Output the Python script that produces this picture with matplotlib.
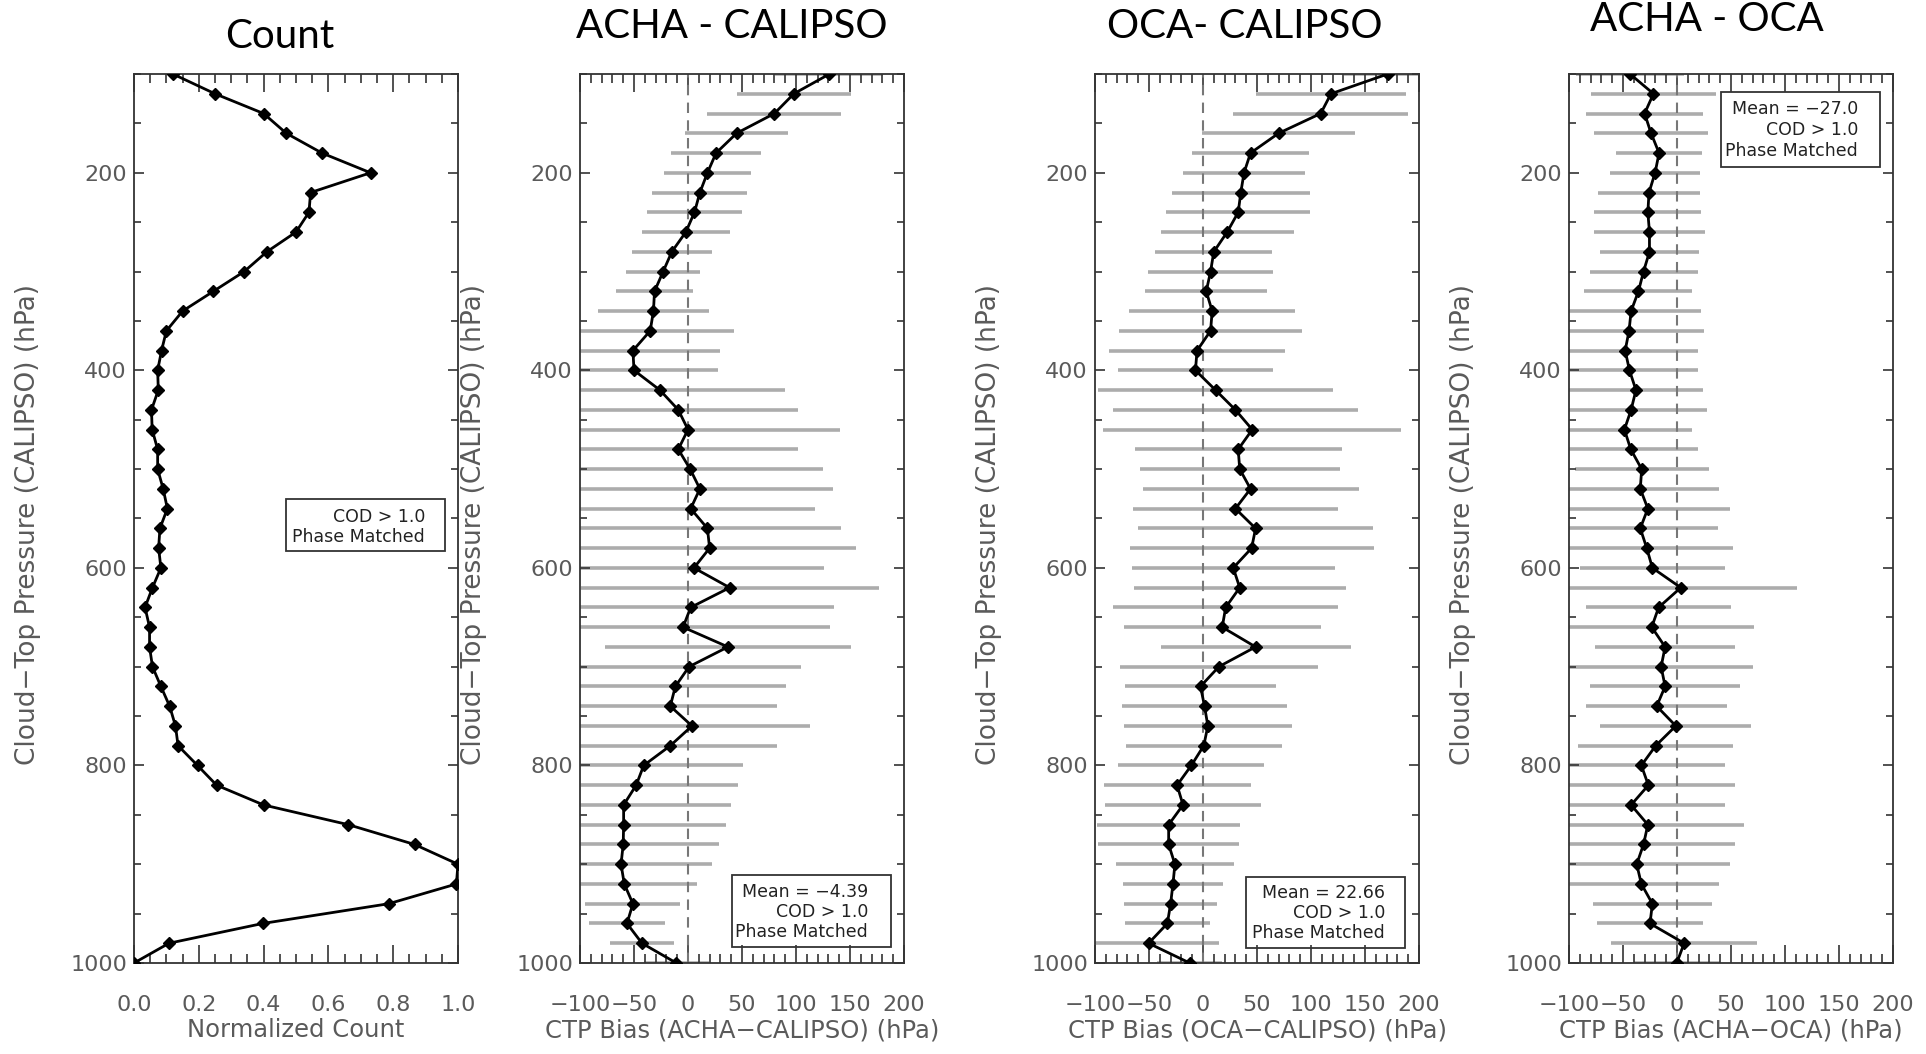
import matplotlib
matplotlib.use("Agg")
import matplotlib.pyplot as plt
from matplotlib.patches import Rectangle
from matplotlib.ticker import MultipleLocator

# ============================================================
# data
# ============================================================

# CALIPSO cloud-top pressure bins (hPa), 100 .. 1000 every 20 hPa
pressure = list(range(100, 1001, 20))

count_norm = [0.12, 0.25, 0.40, 0.47, 0.58, 0.73, 0.545, 0.54, 0.50, 0.41,
              0.34, 0.245, 0.15, 0.10, 0.085, 0.073, 0.075, 0.054, 0.056, 0.073,
              0.073, 0.09, 0.103, 0.08, 0.076, 0.083, 0.057, 0.034, 0.048, 0.048,
              0.057, 0.083, 0.11, 0.128, 0.136, 0.196, 0.255, 0.40, 0.662, 0.866,
              1.0, 0.995, 0.786, 0.397, 0.108, 0.0]

acha_cal_mean = [131, 98, 80, 45, 26, 18, 11, 6, -2, -15,
                 -23, -31, -32, -35, -51, -50, -26, -9, 0, -9,
                 2, 11, 2.5, 18, 20, 5.5, 38.6, 2.5, -4.6, 37,
                 1, -11.7, -16.4, 3.7, -16.4, -41, -48, -59.6, -59.6, -60,
                 -62, -59, -51, -56.5, -42.6, -10.8]
acha_cal_std = [50, 53, 62, 48, 42, 40, 44, 44, 41, 37,
                34, 36, 51, 78, 81, 78, 116, 111, 141, 111,
                123, 123, 115, 124, 136, 120, 138, 133, 136, 114,
                104, 102, 99, 109, 99, 92, 94, 99, 95, 89,
                84, 67, 44, 35, 30, 30]

oca_cal_mean = [171, 118.5, 109, 70, 44, 38, 35, 32.6, 22.4, 10,
                7, 3, 8.5, 7, -5.5, -7, 11.6, 30, 45.6, 32.6,
                34, 44, 30, 48.7, 45, 28, 34, 21, 17.8, 48.7,
                14.7, -2.3, 1.4, 4.5, 0.7, -10.8, -24, -18.5, -31.8, -31.8,
                -26, -27.8, -30, -33, -50.4, -12.3]
oca_cal_std = [40, 69, 81, 71, 54.5, 56.5, 64, 66.6, 61.4, 54,
               58, 56.5, 77, 85, 81.6, 72, 108.6, 113.5, 138, 96,
               92.5, 100, 95, 109, 113, 94, 98, 104, 91, 88,
               91.5, 70, 76, 78, 72, 67.5, 68, 72.5, 66, 65,
               55, 46.5, 43, 39.5, 65, 30]

acha_oca_mean = [-43.5, -21.8, -30, -24, -16.6, -20.3, -25.9, -27, -25.5, -25.5,
                 -31, -35.7, -42.5, -44.4, -48, -44, -38, -42.5, -48.7, -42.8,
                 -32.7, -34, -27, -34, -28, -22.8, 3.5, -17, -23.4, -11,
                 -14.7, -11, -18.8, -1.1, -19.7, -33, -26.5, -42.5, -27, -31,
                 -37.3, -33, -22.8, -25, 6.6, -0.2]
acha_oca_std = [50, 58, 54, 52.8, 40, 42, 47, 49.5, 51, 45.5,
                50, 50, 64.5, 69, 67, 63, 62.5, 70, 62.7, 62,
                62, 73, 76, 72, 80, 67, 108, 67, 95, 65,
                85, 69.5, 65, 70, 72, 77.6, 80.5, 87, 88.6, 85,
                86, 72, 55, 49.5, 67.5, 40]

panel_titles = ["Count", "ACHA - CALIPSO", "OCA- CALIPSO", "ACHA - OCA"]
x_labels = ["Normalized Count", "CTP Bias (ACHA\u2212CALIPSO) (hPa)",
            "CTP Bias (OCA\u2212CALIPSO) (hPa)", "CTP Bias (ACHA\u2212OCA) (hPa)"]
y_label = "Cloud\u2212Top Pressure (CALIPSO) (hPa)"
legend_texts = [
    ["COD > 1.0", "Phase Matched"],
    ["Mean = \u22124.39", "COD > 1.0", "Phase Matched"],
    ["Mean = 22.66", "COD > 1.0", "Phase Matched"],
    ["Mean = \u221227.0", "COD > 1.0", "Phase Matched"],
]

# ============================================================
# layout helpers (pixel positions of the 1926x1054 canvas)
# ============================================================

W, H = 1926, 1054
AXC = "#333333"
TXT = "#5a5a5a"
BAR = "#acacac"

fig = plt.figure(figsize=(W / 100, H / 100), dpi=100)


def add_panel(x0, x1, y0=74, y1=963):
    return fig.add_axes([x0 / W, 1 - y1 / H, (x1 - x0) / W, (y1 - y0) / H])


def style_axes(ax, xlabel, xmajor, xminor):
    ax.set_ylim(1000, 100)
    ax.set_yticks([200, 400, 600, 800, 1000])
    ax.yaxis.set_minor_locator(MultipleLocator(50))
    ax.xaxis.set_major_locator(MultipleLocator(xmajor))
    ax.xaxis.set_minor_locator(MultipleLocator(xminor))
    ax.tick_params(which="both", direction="in", top=True, right=True,
                   color=AXC, width=1.2)
    ax.tick_params(axis="x", which="major", length=13, pad=23,
                   labelsize=16, labelcolor=TXT)
    ax.tick_params(axis="x", which="minor", length=6.5)
    ax.tick_params(axis="y", which="major", length=7, pad=5,
                   labelsize=16, labelcolor=TXT)
    ax.tick_params(axis="y", which="minor", length=5)
    for sp in ax.spines.values():
        sp.set_color(AXC)
        sp.set_linewidth(1.3)
    ax.set_xlabel(xlabel, fontsize=17.5, color=TXT)
    ax.xaxis.set_label_coords(0.5, -0.062)
    ax.set_ylabel(y_label, fontsize=19, color=TXT, va="center")
    ax.yaxis.set_label_coords(-0.327, 0.493)


def draw_legend(bx0, bx1, by0, by1, xr, ys, lines):
    fig.add_artist(Rectangle((bx0 / W, 1 - by1 / H), (bx1 - bx0) / W,
                             (by1 - by0) / H, transform=fig.transFigure,
                             fill=False, edgecolor=AXC, lw=1.3, zorder=5))
    for y, s in zip(ys, lines):
        fig.text(xr / W, 1 - y / H, s, ha="right", va="center",
                 fontsize=12.5, color="#222222", zorder=6)


# ============================================================
# panel 1 : normalized count
# ============================================================

ax1 = add_panel(134, 458)
ax1.plot(count_norm, pressure, color="k", lw=2, marker="D", ms=6, zorder=3)
ax1.set_xlim(0, 1)
style_axes(ax1, x_labels[0], 0.2, 0.05)
ax1.xaxis.set_major_formatter(lambda v, p: f"{v:.1f}")

# ============================================================
# panels 2-4 : CTP bias profiles with +/- 1 std bars
# ============================================================

bias_panels = [
    (580, 904, acha_cal_mean, acha_cal_std),
    (1095, 1419, oca_cal_mean, oca_cal_std),
    (1569, 1893, acha_oca_mean, acha_oca_std),
]
for i, (x0, x1, mean, std) in enumerate(bias_panels):
    ax = add_panel(x0, x1)
    lo = [m - s for m, s in zip(mean, std)]
    hi = [m + s for m, s in zip(mean, std)]
    ax.hlines(pressure, lo, hi, color=BAR, lw=2.6, zorder=1)
    ax.axvline(0, color="#777777", lw=1.5, ls=(0, (5, 3.5)), zorder=2)
    ax.plot(mean, pressure, color="k", lw=2, marker="D", ms=6, zorder=3)
    ax.set_xlim(-100, 200)
    style_axes(ax, x_labels[i + 1], 50, 10)

# ============================================================
# titles and legend boxes
# ============================================================

title_pos = [(280, 48), (732, 38), (1245, 38), (1707, 31)]
for (tx, ty), t in zip(title_pos, panel_titles):
    fig.text(tx / W, 1 - ty / H, t, ha="center", va="baseline",
             fontsize=29, family=["Lato", "DejaVu Sans"], color="k")

draw_legend(286, 445, 499, 551, 425, [517, 537], legend_texts[0])
draw_legend(732, 891, 875, 947, 868, [892, 912, 932], legend_texts[1])
draw_legend(1246, 1405, 877, 948, 1385, [893, 913, 933], legend_texts[2])
draw_legend(1721, 1880, 92, 167, 1858, [109, 130, 151], legend_texts[3])

fig.savefig("out.png", dpi=100)
